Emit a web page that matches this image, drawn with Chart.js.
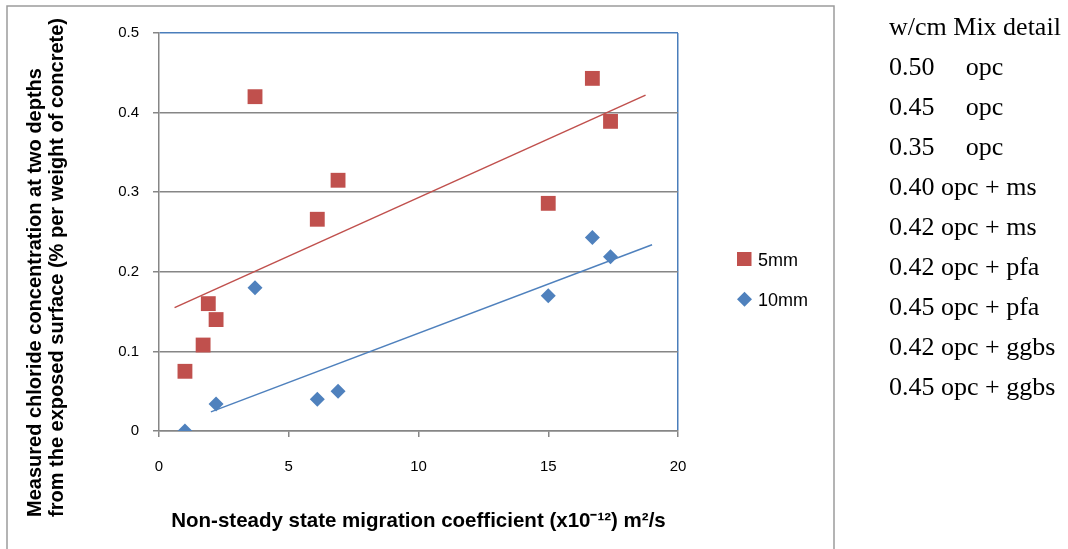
<!DOCTYPE html>
<html><head><meta charset="utf-8">
<script src="https://cdn.jsdelivr.net/npm/chart.js@4.4.0/dist/chart.umd.min.js"></script>
<style>
html,body{margin:0;padding:0;background:#fff;}
#wrap{position:relative;width:1068px;height:549px;overflow:hidden;background:#fff;}
#c{position:absolute;left:0;top:0;}
#mix{position:absolute;left:889px;top:7px;font-family:"Liberation Serif","Times New Roman",serif;font-size:26px;line-height:40px;color:#000;white-space:pre;}
</style></head>
<body>
<div id="wrap"><canvas id="c" width="1068" height="549"></canvas><div id="mix"></div></div>
<script>
// ---- data ----
const x5mm  = [1.0, 1.7, 1.9, 2.2, 3.7, 6.1, 6.9, 15.0, 16.7, 17.4];
const y5mm  = [0.075, 0.108, 0.160, 0.140, 0.420, 0.266, 0.315, 0.286, 0.443, 0.389];
const x10mm = [1.0, 2.2, 3.7, 6.1, 6.9, 15.0, 16.7, 17.4];
const y10mm = [0.000, 0.034, 0.180, 0.040, 0.050, 0.170, 0.243, 0.219];
const trend5x  = [0.6, 18.75];
const trend5y  = [0.155, 0.422];
const trend10x = [2.0, 19.0];
const trend10y = [0.024, 0.234];
const seriesNames = ["5mm", "10mm"];
const xTicks = [0, 5, 10, 15, 20];
const yTicks = [0, 0.1, 0.2, 0.3, 0.4, 0.5];
const xTitle = "Non-steady state migration coefficient (x10\u207B\u00B9\u00B2) m\u00B2/s";
const yTitle = ["Measured chloride concentration at two depths", "from the exposed surface (% per weight of concrete)"];
const mixLines = ["w/cm Mix detail", "0.50    \u2009opc", "0.45    \u2009opc", "0.35    \u2009opc", "0.40 opc + ms", "0.42 opc + ms", "0.42 opc + pfa", "0.45 opc + pfa", "0.42 opc + ggbs", "0.45 opc + ggbs"];

document.getElementById('mix').textContent = mixLines.join('\n');

const RED = '#C0504D', BLUE = '#4F81BD', GRID = '#868686', BORDERBLUE = '#4A7EBB';
const FONT = '"Liberation Sans", Arial, sans-serif';
const pts = (xs, ys) => xs.map((x, i) => ({x, y: ys[i]}));

const decor = {
  id: 'decor',
  beforeDraw(chart) {
    const ctx = chart.ctx;
    ctx.save();
    ctx.fillStyle = '#fff';
    ctx.fillRect(0, 0, chart.width, chart.height);
    ctx.strokeStyle = '#9c9c9c';
    ctx.lineWidth = 1.5;
    ctx.beginPath();
    ctx.moveTo(7, 560); ctx.lineTo(7, 6); ctx.lineTo(834, 6); ctx.lineTo(834, 560);
    ctx.stroke();
    ctx.restore();
  },
  afterDraw(chart) {
    const ctx = chart.ctx, a = chart.chartArea;
    ctx.save();
    ctx.fillStyle = '#000';
    ctx.textBaseline = 'alphabetic';
    ctx.font = 'bold 20.5px ' + FONT;
    ctx.textAlign = 'center';
    ctx.fillText(xTitle, (a.left + a.right) / 2, 527);
    ctx.font = 'bold 20px ' + FONT;
    ctx.textAlign = 'left';
    ctx.save();
    ctx.translate(41, 517);
    ctx.rotate(-Math.PI / 2);
    ctx.fillText(yTitle[0], 0, 0);
    ctx.fillText(yTitle[1], 0, 22);
    ctx.restore();
    // legend
    ctx.fillStyle = RED;
    ctx.fillRect(737, 252, 14.5, 14);
    ctx.fillStyle = BLUE;
    ctx.beginPath();
    ctx.moveTo(744.5, 291.7); ctx.lineTo(752, 299.2); ctx.lineTo(744.5, 306.7); ctx.lineTo(737, 299.2); ctx.closePath();
    ctx.fill();
    ctx.fillStyle = '#000';
    ctx.font = '18px ' + FONT;
    ctx.fillText(seriesNames[0], 758, 266);
    ctx.fillText(seriesNames[1], 758, 306);
    ctx.restore();
  }
};

new Chart(document.getElementById('c'), {
  type: 'scatter',
  data: {
    datasets: [
      {label: 'trend ' + seriesNames[1], type: 'line', data: pts(trend10x, trend10y), borderColor: BLUE, borderWidth: 1.5, pointRadius: 0, fill: false, tension: 0},
      {label: 'trend ' + seriesNames[0], type: 'line', data: pts(trend5x, trend5y), borderColor: RED, borderWidth: 1.5, pointRadius: 0, fill: false, tension: 0},
      {label: seriesNames[1], data: pts(x10mm, y10mm), pointStyle: 'rectRot', pointRadius: 7.5, backgroundColor: BLUE, borderWidth: 0},
      {label: seriesNames[0], data: pts(x5mm, y5mm), pointStyle: 'rect', pointRadius: 10.5, backgroundColor: RED, borderWidth: 0}
    ]
  },
  options: {
    responsive: false,
    animation: false,
    devicePixelRatio: 1,
    layout: {padding: {left: 0, top: 33, right: 390, bottom: 0}},
    plugins: {legend: {display: false}, tooltip: {enabled: false}},
    scales: {
      x: {
        type: 'linear', min: xTicks[0], max: xTicks[xTicks.length - 1],
        afterBuildTicks(s) { s.ticks = xTicks.map(v => ({value: v})); },
        afterFit(s) { s.height = 118; },
        ticks: {padding: 21, color: '#000', font: {family: FONT, size: 15}},
        grid: {color: c => (c.tick && c.tick.value === 20) ? BORDERBLUE : 'rgba(0,0,0,0)', lineWidth: 1.5, tickColor: GRID, tickLength: 6},
        border: {color: GRID, width: 1.5}
      },
      y: {
        type: 'linear', min: yTicks[0], max: yTicks[yTicks.length - 1],
        afterBuildTicks(s) { s.ticks = yTicks.map(v => ({value: v})); },
        afterFit(s) { s.width = 159; },
        ticks: {padding: 14, color: '#000', font: {family: FONT, size: 15}},
        grid: {color: c => (c.tick && Math.abs(c.tick.value - 0.5) < 1e-9) ? BORDERBLUE : GRID, lineWidth: 1.5, tickColor: GRID, tickLength: 6},
        border: {color: GRID, width: 1.5}
      }
    }
  },
  plugins: [decor]
});
</script>
</body></html>
